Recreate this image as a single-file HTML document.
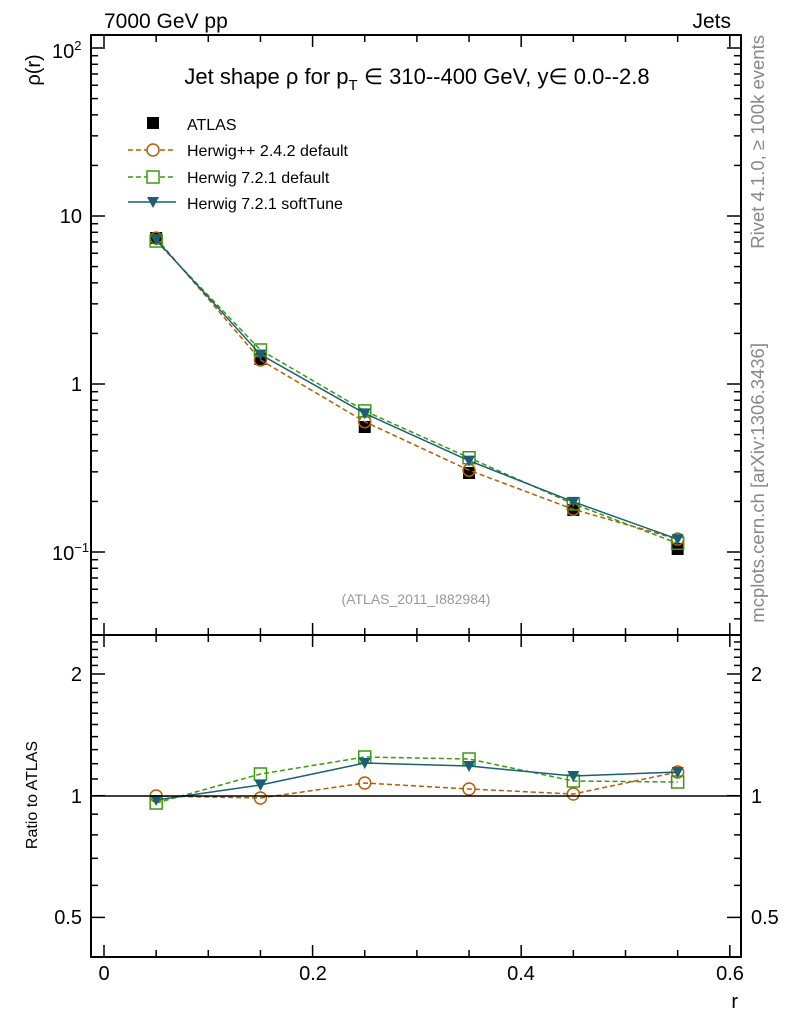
<!DOCTYPE html>
<html><head><meta charset="utf-8"><style>
html,body{margin:0;padding:0;background:#fff;}
svg{display:block;font-family:"Liberation Sans",sans-serif;}
</style></head><body>
<svg id="s" width="786" height="1024" xmlns="http://www.w3.org/2000/svg">
<rect width="786" height="1024" fill="#fff"/>
<text x="104" y="28" font-size="21">7000 GeV pp</text>
<text x="731" y="28" font-size="21" text-anchor="end">Jets</text>
<text x="417" y="84" font-size="22" text-anchor="middle">Jet shape ρ for p<tspan font-size="15" dy="6">T</tspan><tspan dy="-6"> ∈ 310--400 GeV, y∈ 0.0--2.8</tspan></text>
<text transform="translate(40,70) rotate(-90)" font-size="20" text-anchor="middle">ρ(r)</text>
<text x="52" y="58" font-size="20">10<tspan font-size="13" dy="-8">2</tspan></text>
<text x="82" y="223" font-size="20" text-anchor="end">10</text>
<text x="82" y="391" font-size="20" text-anchor="end">1</text>
<text x="52" y="560" font-size="20">10<tspan font-size="13" dy="-8">−1</tspan></text>
<text x="82" y="681" font-size="20" text-anchor="end">2</text>
<text x="82" y="803" font-size="20" text-anchor="end">1</text>
<text x="82" y="924" font-size="20" text-anchor="end">0.5</text>
<text x="751" y="681" font-size="20">2</text>
<text x="751" y="803" font-size="20">1</text>
<text x="751" y="924" font-size="20">0.5</text>
<text transform="translate(37,795) rotate(-90)" font-size="16" text-anchor="middle">Ratio to ATLAS</text>
<g font-size="20" text-anchor="middle">
<text x="104" y="980">0</text><text x="313" y="980">0.2</text><text x="521" y="980">0.4</text><text x="730" y="980">0.6</text>
</g>
<text x="738" y="1008" font-size="20" text-anchor="end">r</text>
<text transform="translate(764,35) rotate(-90)" font-size="18.5" fill="#888" text-anchor="end">Rivet 4.1.0, ≥ 100k events</text>
<text transform="translate(764,343) rotate(-90)" font-size="18.5" fill="#888" text-anchor="end">mcplots.cern.ch [arXiv:1306.3436]</text>
<text x="416" y="604" font-size="14" fill="#999" text-anchor="middle">(ATLAS_2011_I882984)</text>
<rect x="147" y="117" width="12" height="12" fill="#000"/>
<text x="187" y="130" font-size="16">ATLAS</text>
<line x1="128" y1="150" x2="176" y2="150" stroke="#b85c00" stroke-width="1.5" stroke-dasharray="5,3"/>
<circle cx="153" cy="150" r="6" fill="#fff" stroke="#b85c00" stroke-width="1.5"/>
<text x="187" y="156" font-size="16">Herwig++ 2.4.2 default</text>
<line x1="128" y1="177" x2="176" y2="177" stroke="#3a9a10" stroke-width="1.5" stroke-dasharray="5,3"/>
<rect x="147" y="171" width="12" height="12" fill="#fff" stroke="#3a9a10" stroke-width="1.5"/>
<text x="187" y="183" font-size="16">Herwig 7.2.1 default</text>
<line x1="128" y1="202" x2="176" y2="202" stroke="#1a5f75" stroke-width="1.5"/>
<polygon points="147,197 159,197 153,208" fill="#1a5f75"/>
<text x="187" y="209" font-size="16">Herwig 7.2.1 softTune</text>
<g id="g"></g>
<rect x="91" y="35" width="650" height="600" fill="none" stroke="#000" stroke-width="2"/>
<rect x="91" y="635" width="650" height="322" fill="none" stroke="#000" stroke-width="2"/>
<line x1="91" y1="796" x2="741" y2="796" stroke="#000" stroke-width="1.5"/>
</svg>
<script>
var g=document.getElementById('g'),h='';
function X(v){return 104+v*1043;}
function L(x1,y1,x2,y2,c,w,d){h+='<line x1="'+x1+'" y1="'+y1+'" x2="'+x2+'" y2="'+y2+'" stroke="'+(c||'#000')+'" stroke-width="'+(w||1.5)+'"'+(d?' stroke-dasharray="'+d+'"':'')+'/>';}
for(var i=0;i<=12;i++){var x=X(i*0.05),len=(i%4==0)?12:7;
 L(x,35,x,35+len);L(x,635,x,635-len);L(x,635,x,635+len);L(x,957,x,957-len);}
function YM(v){return 384-168*Math.log10(v);}
for(var e=-2;e<=2;e++)for(var m=1;m<=9;m++){var v=m*Math.pow(10,e),y=YM(v);if(y<36||y>634)continue;var len=m==1?14:7;L(91,y,91+len,y);L(741,y,741-len,y);}
function YR(r){return 795.7-121.7*Math.log2(r);}
var rt=[0.5,0.6,0.7,0.8,0.9,1,1.1,1.2,1.3,1.4,1.5,1.6,1.7,1.8,1.9,2,2.1,2.2,2.3,2.4];
rt.forEach(function(r){var y=YR(r);if(y<636||y>956)return;var len=(r==0.5||r==1||r==2)?14:7;L(91,y,91+len,y);L(741,y,741-len,y);});
var xs=[0.05,0.15,0.25,0.35,0.45,0.55];
var ya=[238,359,427,473,510,549];
var R={o:[796,798,783,789,794,772],s:[803,774,757,759,781,782],t:[800,785,763,766,776,772]};
var C={o:'#b85c00',s:'#3a9a10',t:'#1a5f75'};
function mk(k,x,y){if(k=='o')h+='<circle cx="'+x+'" cy="'+y+'" r="6" fill="none" stroke="'+C.o+'" stroke-width="1.5"/>';
 else if(k=='s')h+='<rect x="'+(x-6)+'" y="'+(y-6)+'" width="12" height="12" fill="none" stroke="'+C.s+'" stroke-width="1.5"/>';
 else h+='<polygon points="'+(x-6)+','+(y-5)+' '+(x+6)+','+(y-5)+' '+x+','+(y+6)+'" fill="'+C.t+'"/>';}
xs.forEach(function(v,i){h+='<rect x="'+(X(v)-6)+'" y="'+(ya[i]-6)+'" width="12" height="12" fill="#000"/>';});
['o','s','t'].forEach(function(k){
 var pm=[],pr=[];
 xs.forEach(function(v,i){var yr=R[k][i];var ym=ya[i]-(795.7-yr)*0.4155;pm.push(X(v)+','+ym);pr.push(X(v)+','+yr);});
 var d=k=='t'?'':' stroke-dasharray="5,3"';
 h+='<polyline points="'+pm.join(' ')+'" fill="none" stroke="'+C[k]+'" stroke-width="1.5"'+d+'/>';
 h+='<polyline points="'+pr.join(' ')+'" fill="none" stroke="'+C[k]+'" stroke-width="1.5"'+d+'/>';
 xs.forEach(function(v,i){var yr=R[k][i];mk(k,X(v),ya[i]-(795.7-yr)*0.4155);mk(k,X(v),yr);});
});
g.innerHTML=h;
</script>
</body></html>
